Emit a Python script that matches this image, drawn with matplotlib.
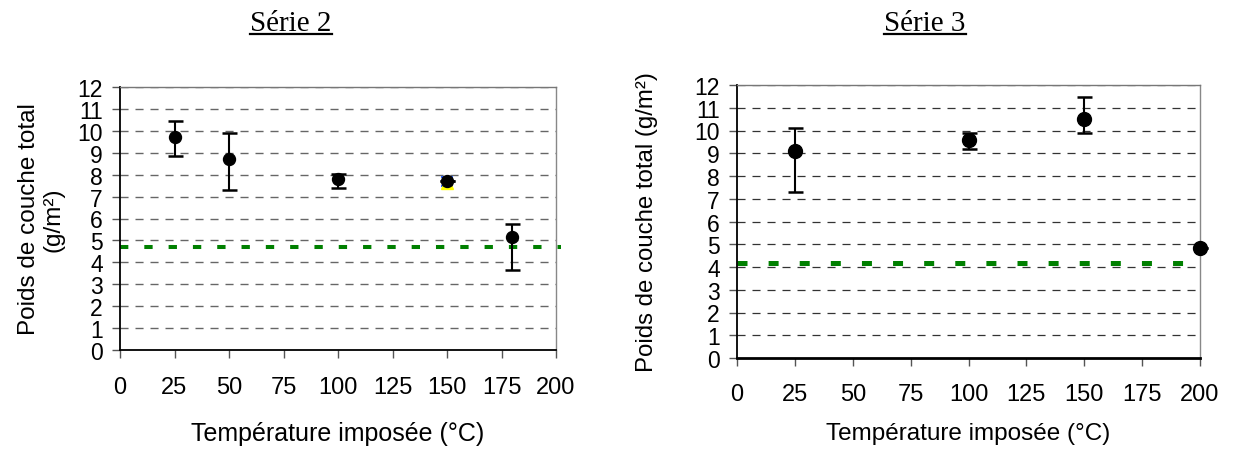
import numpy as np
import matplotlib
matplotlib.use("Agg")
import matplotlib.pyplot as plt
from matplotlib.lines import Line2D

plt.rcParams['font.family'] = ['Liberation Sans', 'DejaVu Sans']
plt.rcParams['lines.scale_dashes'] = False

# ---------------- data ----------------
xticks = [0, 25, 50, 75, 100, 125, 150, 175, 200]
yticks = list(range(0, 13))

# Série 2
temp2 = [25, 50, 100, 150, 180]
poids2 = [9.74, 8.73, 7.82, 7.71, 5.17]
low2 = [8.86, 7.32, 7.39, 7.71, 3.66]
high2 = [10.43, 9.88, 8.05, 7.71, 5.76]
# secondary point at 150 (yellow marker, blue error bar)
temp2b = [150]
poids2b = [7.62]
low2b = [7.50]
high2b = [7.88]
ref2 = 4.68

# Série 3
temp3 = [25, 100, 150, 200]
poids3 = [9.11, 9.60, 10.49, 4.85]
low3 = [7.31, 9.17, 9.89, 4.85]
high3 = [10.12, 9.90, 11.49, 4.85]
ref3 = 4.18

xlabel = "Température imposée (°C)"
ylabel2 = "Poids de couche total\n(g/m²)"
ylabel3 = "Poids de couche total (g/m²)"
title2 = "Série 2"
title3 = "Série 3"

W, H = 1234, 452
fig = plt.figure(figsize=(W / 100, H / 100), dpi=100)


def px_axes(x0, y0, x1, y1):
    return fig.add_axes([x0 / W, 1 - y1 / H, (x1 - x0) / W, (y1 - y0) / H])


def style_axes(ax, gridcol, gridlw, bottom_lw, ytick_fs, xtick_fs, xpad, ypad):
    ax.set_xlim(0, 200)
    ax.set_ylim(0, 12)
    ax.set_xticks(xticks)
    ax.set_yticks(yticks)
    ax.tick_params(axis='x', direction='out', length=5.5, width=1.0, color='#555555',
                   labelsize=xtick_fs, pad=xpad)
    ax.tick_params(axis='y', direction='out', length=5.5, width=1.0, color='#555555',
                   labelsize=ytick_fs, pad=ypad)
    for y in yticks[1:]:
        ax.axhline(y, color=gridcol, lw=gridlw, dashes=(5.8, 5.0), zorder=1)
    ax.spines['left'].set_linewidth(1.3)
    ax.spines['left'].set_color('black')
    ax.spines['bottom'].set_linewidth(bottom_lw)
    ax.spines['bottom'].set_color('black')
    ax.spines['top'].set_color('#777777')
    ax.spines['top'].set_linewidth(1.0)
    ax.spines['right'].set_color('#888888')
    ax.spines['right'].set_linewidth(1.0)


def yerr(v, lo, hi):
    v = np.asarray(v); lo = np.asarray(lo); hi = np.asarray(hi)
    return np.vstack([v - lo, hi - v])


# ---------------- left chart: Série 2 ----------------
ax1 = px_axes(120, 88, 556, 351)
style_axes(ax1, '#666666', 1.0, 1.3, 16.5, 17, 13.5, 7)
ax1.axhline(ref2, xmin=0, xmax=1.012, color='#008000', lw=2.9, dashes=(6.0, 11.5),
            dash_capstyle='butt', clip_on=False, zorder=2)
ax1.errorbar(temp2b, poids2b, yerr=yerr(poids2b, low2b, high2b), fmt='^',
             color='#FFFF00', ms=8, ecolor='#3366FF', elinewidth=1.2, capsize=4,
             capthick=1.5, zorder=3, clip_on=False)
ax1.errorbar(temp2, poids2, yerr=yerr(poids2, low2, high2), fmt='o', color='black',
             ms=8.6, elinewidth=1.5, capsize=5.4, capthick=1.8, zorder=4, clip_on=False)
ax1.set_xlabel(xlabel, fontsize=18)
ax1.xaxis.set_label_coords(0.5, (351 - 441) / 263)
ax1.xaxis.label.set_va('baseline')
ax1.set_ylabel(ylabel2, fontsize=17.5, linespacing=1.1, multialignment='center')
ax1.yaxis.set_label_coords((64 - 120) / 436, 0.5)

# ---------------- right chart: Série 3 ----------------
ax2 = px_axes(737, 86, 1200, 359)
style_axes(ax2, '#333333', 0.9, 2.0, 16.5, 17, 12.5, 7)
ax2.axhline(ref3, color='#008000', lw=3.6, dashes=(7.2, 15.2),
            dash_capstyle='butt', clip_on=False, zorder=2)
ax2.errorbar(temp3, poids3, yerr=yerr(poids3, low3, high3), fmt='o', color='black',
             ms=10, elinewidth=1.5, capsize=5.4, capthick=1.8, zorder=4, clip_on=False)
ax2.set_xlabel(xlabel, fontsize=17.5)
ax2.xaxis.set_label_coords(0.5, (359 - 440) / 273)
ax2.xaxis.label.set_va('baseline')
ax2.set_ylabel(ylabel3, fontsize=17.3)
ax2.yaxis.set_label_coords((658 - 737) / 463, 0.5)

# ---------------- underlined titles ----------------
def underlined_title(xc, base_px, s):
    t = fig.text(xc / W, 1 - base_px / H, s, ha='center', va='baseline', fontsize=21,
                 family=['Liberation Serif', 'DejaVu Serif'])
    fig.canvas.draw()
    bb = t.get_window_extent()
    x0 = bb.x0 / W
    x1 = bb.x1 / W
    yu = 1 - (base_px + 3.5) / H
    fig.add_artist(Line2D([x0, x1], [yu, yu], transform=fig.transFigure,
                          color='black', lw=1.6))


underlined_title(291, 31, title2)
underlined_title(925, 31, title3)

fig.savefig("out.png", dpi=100)
